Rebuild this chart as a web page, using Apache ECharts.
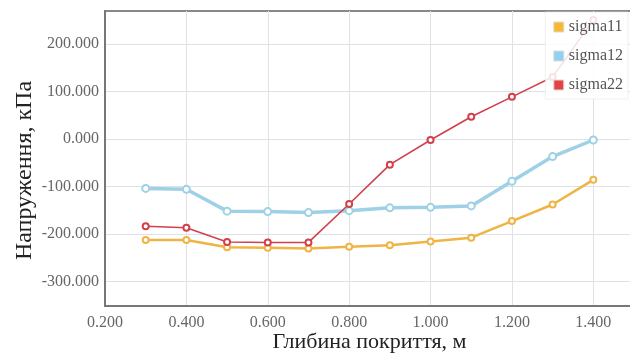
<!DOCTYPE html>
<html>
<head>
<meta charset="utf-8">
<script src="https://cdn.jsdelivr.net/npm/echarts@6/dist/echarts.min.js"></script>
<style>html,body{margin:0;padding:0;background:#fff}#c{width:630px;height:353px}</style>
</head>
<body>
<div id="c"></div>
<script>
var depth = [0.3, 0.4, 0.5, 0.6, 0.7, 0.8, 0.9, 1.0, 1.1, 1.2, 1.3, 1.4];
var sigma11 = [-213, -213, -228, -229, -231, -227, -224, -216, -208, -173, -138, -86];
var sigma12 = [-104, -106, -152, -153, -155, -151, -145, -144, -141, -89, -37, -2];
var sigma22 = [-184, -187, -217, -218, -218, -137, -54, -2, 47, 89, 131, 251];
var yTicks = [-300, -200, -100, 0, 100, 200];
var seriesNames = ['sigma11', 'sigma12', 'sigma22'];

function pairs(v) { return depth.map(function (d, i) { return [d, v[i]]; }); }

var font = 'Liberation Serif';
var chart = echarts.init(document.getElementById('c'));
chart.setOption({
  animation: false,
  textStyle: { fontFamily: font },
  grid: { left: 105, right: -4, top: 11, bottom: 47, containLabel: false, outerBoundsMode: 'none',
    show: true, borderColor: '#888', borderWidth: 2 },
  legend: {
    orient: 'vertical', right: 2, top: 12,
    data: seriesNames.map(function (n, i) {
      return { name: n, icon: 'rect', itemStyle: { color: ['#f8b830', '#8ed2ef', '#e6423f'][i], borderColor: '#ddd', borderWidth: 1 } };
    }),
    itemWidth: 10, itemHeight: 10, itemGap: 13,
    backgroundColor: 'rgba(255,255,255,0.85)',
    borderColor: 'rgba(230,230,230,0.6)', borderWidth: 1,
    padding: [7, 5, 6, 8],
    textStyle: { fontFamily: font, fontSize: 16, color: '#555' }
  },
  xAxis: {
    type: 'value', min: 0.2, max: 1.5, interval: 0.2,
    name: 'Глибина покриття, м', nameLocation: 'middle', nameGap: 25, nameMoveOverlap: false,
    nameTextStyle: { fontFamily: font, fontSize: 22, color: '#222' },
    axisLine: { show: true, onZero: false, lineStyle: { color: '#777', width: 2 } },
    axisTick: { show: false },
    axisLabel: { fontFamily: font, fontSize: 16, color: '#666', margin: 9,
      formatter: function (v) { return v.toFixed(3); },
      showMaxLabel: false },
    splitLine: { show: true, lineStyle: { color: '#dde2e6', width: 1 } }
  },
  yAxis: {
    type: 'value', min: -352, max: 270,
    name: 'Напруження, кПа', nameLocation: 'middle', nameGap: 68, nameMoveOverlap: false,
    nameTextStyle: { fontFamily: font, fontSize: 24, color: '#222', padding: [0, 24, 0, 0] },
    axisLine: { show: true, lineStyle: { color: '#777', width: 2 } },
    axisTick: { show: false, customValues: yTicks },
    axisLabel: { fontFamily: font, fontSize: 16, color: '#666', margin: 6, customValues: yTicks,
      formatter: function (v) { return v.toFixed(3); } },
    splitLine: { show: true, lineStyle: { color: '#dde2e6', width: 1 } }
  },
  series: [
    { name: 'sigma11', type: 'line', data: pairs(sigma11), symbol: 'emptyCircle', symbolSize: 6,
      color: '#f0b445', lineStyle: { width: 2.5, color: '#f0b445' }, itemStyle: { color: '#f0b445', borderWidth: 1.5 }, z: 2 },
    { name: 'sigma12', type: 'line', data: pairs(sigma12), symbol: 'emptyCircle', symbolSize: 7,
      color: '#9ed0e6', lineStyle: { width: 3.5, color: '#9ed0e6' }, itemStyle: { color: '#9ed0e6', borderWidth: 1.5 }, z: 2 },
    { name: 'sigma22', type: 'line', data: pairs(sigma22), symbol: 'emptyCircle', symbolSize: 6,
      color: '#d2404c', lineStyle: { width: 1.6, color: '#d2404c' }, itemStyle: { color: '#d2404c', borderWidth: 1.5 }, z: 3 }
  ]
});
</script>
</body>
</html>
